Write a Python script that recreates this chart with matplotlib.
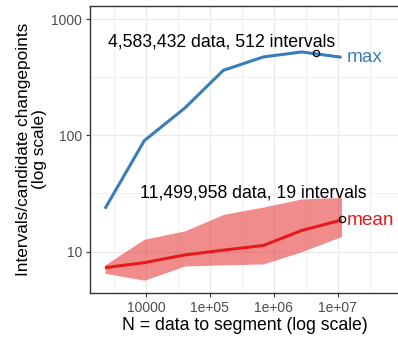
import matplotlib
matplotlib.use("Agg")
import matplotlib.pyplot as plt
from matplotlib.ticker import FixedLocator, FixedFormatter, NullFormatter

plt.rcParams['font.family'] = ['Liberation Sans', 'DejaVu Sans']

# data
n_data = [2281, 9400, 40700, 162000, 685000, 2730000, 11499958]
max_intervals = [23.4, 90, 172, 362, 472, 521, 469]
mean_intervals = [7.28, 8.04, 9.37, 10.3, 11.3, 15.2, 18.7]
band_upper = [7.69, 12.8, 15.1, 20.9, 24.2, 28.4, 29.2]
band_lower = [6.52, 5.68, 7.53, 7.69, 7.84, 10.0, 13.5]
max_point = (4583432, 512)
mean_point = (11499958, 19)
max_label = "4,583,432 data, 512 intervals"
mean_label = "11,499,958 data, 19 intervals"
x_ticks = [1e4, 1e5, 1e6, 1e7]
x_ticklabels = ["10000", "1e+05", "1e+06", "1e+07"]
y_ticks = [10, 100, 1000]
y_ticklabels = ["10", "100", "1000"]

BLUE = "#377EB8"
RED = "#E41A1C"

W, H = 398, 337
fig = plt.figure(figsize=(W / 100, H / 100), dpi=100)
left, right, top, bottom = 90, 399.5, 6, 293
ax = fig.add_axes([left / W, 1 - bottom / H, (right - left) / W, (bottom - top) / H])
ax.set_xscale('log')
ax.set_yscale('log')
ax.set_xlim(1330, 9.27e7)
ax.set_ylim(4.41, 1294)

ax.fill_between(n_data, band_lower, band_upper, color=RED, alpha=0.5, lw=0, zorder=2)
ax.plot(n_data, max_intervals, color=BLUE, lw=2.2, zorder=3, solid_capstyle='butt')
ax.plot(n_data, mean_intervals, color=RED, lw=2.2, zorder=3, solid_capstyle='butt')
ax.plot(*max_point, marker='o', ms=4.5, mfc='none', mec='black', mew=0.9, zorder=4)
ax.plot(*mean_point, marker='o', ms=4.5, mfc='none', mec='black', mew=0.9, zorder=4)

ax.text(1.545e5, 638, max_label, ha='center', va='center', fontsize=12.7, color='black')
ax.text(4.72e5, 31.8, mean_label, ha='center', va='center', fontsize=12.7, color='black')
ax.annotate("max", (n_data[-1], max_intervals[-1]), xytext=(4, 0), textcoords='offset points',
            ha='left', va='center', fontsize=13.7, color=BLUE)
ax.annotate("mean", (n_data[-1], mean_intervals[-1]), xytext=(4, 0), textcoords='offset points',
            ha='left', va='center', fontsize=13.7, color=RED)

ax.xaxis.set_major_locator(FixedLocator(x_ticks))
ax.xaxis.set_major_formatter(FixedFormatter(x_ticklabels))
ax.xaxis.set_minor_locator(FixedLocator([10 ** 3.5, 10 ** 4.5, 10 ** 5.5, 10 ** 6.5, 10 ** 7.5]))
ax.xaxis.set_minor_formatter(NullFormatter())
ax.yaxis.set_major_locator(FixedLocator(y_ticks))
ax.yaxis.set_major_formatter(FixedFormatter(y_ticklabels))
ax.yaxis.set_minor_locator(FixedLocator([10 ** 0.5, 10 ** 1.5, 10 ** 2.5]))
ax.yaxis.set_minor_formatter(NullFormatter())

ax.grid(True, which='major', color='#EBEBEB', lw=1.0, zorder=0)
ax.grid(True, which='minor', color='#EBEBEB', lw=0.5, zorder=0)
ax.set_axisbelow(True)
ax.tick_params(which='major', length=3, width=0.8, color='#333333', labelcolor='#4D4D4D',
               labelsize=10, pad=2.5)
ax.tick_params(which='minor', length=0)
for s in ['left', 'bottom', 'top']:
    ax.spines[s].set_color('#333333')
    ax.spines[s].set_linewidth(1.0)
ax.spines['right'].set_visible(False)

ax.set_xlabel("N = data to segment (log scale)", fontsize=12.7, labelpad=2)
ax.set_ylabel("Intervals/candidate changepoints\n(log scale)", fontsize=12.4, linespacing=1.05)
ax.yaxis.set_label_coords(-(left - 47) / (right - left), 0.5)

fig.savefig("out.png", dpi=100)
